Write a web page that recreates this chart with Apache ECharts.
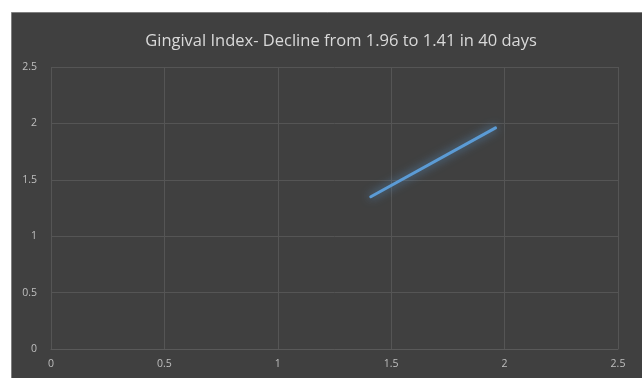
<!DOCTYPE html>
<html>
<head>
<meta charset="utf-8">
<script src="https://cdn.jsdelivr.net/npm/echarts@6/dist/echarts.min.js"></script>
<style>
  html, body { margin: 0; padding: 0; background: #ffffff; }
  #chart { width: 642px; height: 378px; }
</style>
</head>
<body>
<div id="chart"></div>
<script>
// Gingival index: baseline vs. day 40 reading
const xValues = [1.41, 1.96];
const yValues = [1.35, 1.96];
const axisTicks = [0, 0.5, 1, 1.5, 2, 2.5];
const titleText = 'Gingival Index- Decline from 1.96 to 1.41 in 40 days';

const points = xValues.map((x, i) => [x, yValues[i]]);
const chart = echarts.init(document.getElementById('chart'));

const labelStyle = {
  color: '#bfbfbf',
  fontSize: 10.5,
  fontFamily: 'Open Sans, Liberation Sans, sans-serif'
};

chart.setOption({
  backgroundColor: '#ffffff',
  animation: false,
  graphic: [{
    type: 'rect',
    z: -10,
    shape: { x: 11.5, y: 12.5, width: 640, height: 370 },
    style: { fill: '#404040', stroke: '#7f7f7f', lineWidth: 1 },
    silent: true
  }],
  title: {
    text: titleText,
    left: 336,
    top: 28,
    textAlign: 'center',
    textStyle: {
      color: '#d9d9d9',
      fontSize: 16.5,
      fontWeight: 'normal',
      fontFamily: 'Open Sans, Liberation Sans, sans-serif'
    }
  },
  grid: { left: 51, right: 24, top: 67, bottom: 29 },
  xAxis: {
    type: 'value',
    min: axisTicks[0],
    max: axisTicks[axisTicks.length - 1],
    interval: 0.5,
    axisLine: { show: true, lineStyle: { color: '#595959' } },
    axisTick: { show: false },
    axisLabel: Object.assign({ margin: 10 }, labelStyle),
    splitLine: { show: true, lineStyle: { color: '#555555' } }
  },
  yAxis: {
    type: 'value',
    min: axisTicks[0],
    max: axisTicks[axisTicks.length - 1],
    interval: 0.5,
    axisLine: { show: false },
    axisTick: { show: false },
    axisLabel: Object.assign({ margin: 14 }, labelStyle),
    splitLine: { show: true, lineStyle: { color: '#555555' } }
  },
  series: [{
    type: 'line',
    data: points,
    showSymbol: false,
    symbol: 'none',
    lineStyle: {
      color: '#5b9bd5',
      width: 3,
      cap: 'round',
      shadowColor: 'rgba(91,155,213,0.85)',
      shadowBlur: 10
    }
  }]
});
</script>
</body>
</html>
